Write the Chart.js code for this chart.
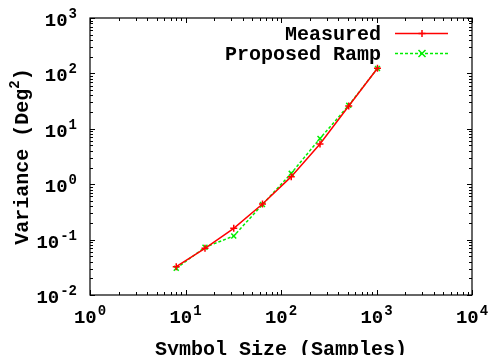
<!DOCTYPE html>
<html>
<head>
<meta charset="utf-8">
<script src="https://cdn.jsdelivr.net/npm/chart.js@4/dist/chart.umd.min.js"></script>
<style>
  html, body { margin: 0; padding: 0; background: #fff; }
  canvas { display: block; }
</style>
</head>
<body>
<canvas id="myChart" width="490" height="355"></canvas>
<script>
// data
const symbolSizes = [8, 16, 32, 64, 128, 256, 512, 1024];
const measured = [0.0324, 0.0697, 0.160, 0.44, 1.37, 5.3, 25.8, 124];
const proposedRamp = [0.0303, 0.0726, 0.116, 0.43, 1.57, 6.7, 26.5, 123];
const seriesNames = ['Measured', 'Proposed Ramp'];
const xTickExps = [0, 1, 2, 3, 4];
const yTickExps = [-2, -1, 0, 1, 2, 3];
const xTitle = 'Symbol Size (Samples)';
const yTitle = ['Variance (Deg', '2', ')'];

const FONT = '"Liberation Mono", "DejaVu Sans Mono", monospace';

const toPoints = (ys) => symbolSizes.map((x, i) => ({ x: x, y: ys[i] }));

// gnuplot-ish markers: + and x
function drawMarker(ctx, style, x, y, r, color, width) {
  ctx.save();
  ctx.strokeStyle = color;
  ctx.lineWidth = width;
  ctx.setLineDash([]);
  ctx.beginPath();
  if (style === 'cross') {
    ctx.moveTo(x - r, y); ctx.lineTo(x + r, y);
    ctx.moveTo(x, y - r); ctx.lineTo(x, y + r);
  } else {
    ctx.moveTo(x - r, y - r); ctx.lineTo(x + r, y + r);
    ctx.moveTo(x - r, y + r); ctx.lineTo(x + r, y - r);
  }
  ctx.stroke();
  ctx.restore();
}

// "10" with a raised exponent
function drawPow(ctx, x, y, exp, align) {
  const base = '10';
  const sup = exp < 0 ? '-' + Math.abs(exp) : String(exp);
  ctx.font = 'bold 19px ' + FONT;
  const wb = ctx.measureText(base).width;
  ctx.font = 'bold 14px ' + FONT;
  const we = ctx.measureText(sup).width;
  const total = wb + we + 1;
  let start = align === 'right' ? x - total : x - total / 2;
  ctx.textAlign = 'left';
  ctx.textBaseline = 'alphabetic';
  ctx.fillStyle = '#000';
  ctx.font = 'bold 19px ' + FONT;
  ctx.fillText(base, start, y);
  ctx.font = 'bold 14px ' + FONT;
  ctx.fillText(sup, start + wb + 1, y - 8);
}

const framePlugin = {
  id: 'frame',
  afterDraw(chart) {
    const ctx = chart.ctx;
    const a = chart.chartArea;
    const xs = chart.scales.x;
    const ys = chart.scales.y;
    ctx.save();

    // border
    ctx.strokeStyle = '#000';
    ctx.lineWidth = 1.2;
    ctx.strokeRect(a.left, a.top, a.right - a.left, a.bottom - a.top);

    // inward ticks, mirrored on all sides
    ctx.lineWidth = 1;
    ctx.beginPath();
    for (let e = xTickExps[0]; e <= xTickExps[xTickExps.length - 1]; e++) {
      for (let m = 1; m <= 9; m++) {
        const v = m * Math.pow(10, e);
        if (v > xs.max) break;
        const px = Math.round(xs.getPixelForValue(v)) + 0.5;
        const len = m === 1 ? 5 : 3;
        ctx.moveTo(px, a.bottom); ctx.lineTo(px, a.bottom - len);
        ctx.moveTo(px, a.top); ctx.lineTo(px, a.top + len);
      }
    }
    for (let e = yTickExps[0]; e <= yTickExps[yTickExps.length - 1]; e++) {
      for (let m = 1; m <= 9; m++) {
        const v = m * Math.pow(10, e);
        if (v > ys.max * 1.0001) break;
        const py = Math.round(ys.getPixelForValue(v)) + 0.5;
        const len = m === 1 ? 5 : 3;
        ctx.moveTo(a.left, py); ctx.lineTo(a.left + len, py);
        ctx.moveTo(a.right, py); ctx.lineTo(a.right - len, py);
      }
    }
    ctx.stroke();

    // tick labels
    xTickExps.forEach(e => {
      drawPow(ctx, xs.getPixelForValue(Math.pow(10, e)), a.bottom + 28, e, 'center');
    });
    yTickExps.forEach(e => {
      drawPow(ctx, a.left - 13, ys.getPixelForValue(Math.pow(10, e)) + 8, e, 'right');
    });

    // axis titles
    ctx.fillStyle = '#000';
    ctx.font = 'bold 20px ' + FONT;
    ctx.textAlign = 'center';
    ctx.textBaseline = 'alphabetic';
    ctx.fillText(xTitle, (a.left + a.right) / 2, a.bottom + 60);

    ctx.save();
    ctx.translate(28, (a.top + a.bottom) / 2);
    ctx.rotate(-Math.PI / 2);
    ctx.font = 'bold 20px ' + FONT;
    const w0 = ctx.measureText(yTitle[0]).width;
    const w2 = ctx.measureText(yTitle[2]).width;
    ctx.font = 'bold 14px ' + FONT;
    const w1 = ctx.measureText(yTitle[1]).width;
    let sx = -(w0 + w1 + w2) / 2;
    ctx.textAlign = 'left';
    ctx.font = 'bold 20px ' + FONT;
    ctx.fillText(yTitle[0], sx, 0);
    ctx.font = 'bold 14px ' + FONT;
    ctx.fillText(yTitle[1], sx + w0, -9);
    ctx.font = 'bold 20px ' + FONT;
    ctx.fillText(yTitle[2], sx + w0 + w1, 0);
    ctx.restore();

    // key
    chart.data.datasets.forEach((ds, i) => {
      const y = 33 + i * 20;
      ctx.fillStyle = '#000';
      ctx.font = 'bold 20px ' + FONT;
      ctx.textAlign = 'right';
      ctx.fillText(ds.label, 381, y + 7);
      ctx.strokeStyle = ds.borderColor;
      ctx.lineWidth = ds.borderWidth;
      ctx.setLineDash(ds.borderDash || []);
      ctx.beginPath();
      ctx.moveTo(395, y + 0.5);
      ctx.lineTo(448, y + 0.5);
      ctx.stroke();
      ctx.setLineDash([]);
      drawMarker(ctx, ds.pointStyle, 422, y + 0.5, 3.5, ds.borderColor, 1.5);
    });

    ctx.restore();
  }
};

const data = {
  datasets: [{
    label: seriesNames[0],
    data: toPoints(measured),
    borderColor: '#ff0000',
    backgroundColor: '#ff0000',
    borderWidth: 1.5,
    pointStyle: 'cross',
    pointRadius: 3.5,
    pointBorderWidth: 1.5,
    tension: 0
  }, {
    label: seriesNames[1],
    data: toPoints(proposedRamp),
    borderColor: '#00ee00',
    backgroundColor: '#00ee00',
    borderWidth: 1.5,
    borderDash: [3, 2],
    pointStyle: 'crossRot',
    pointRadius: 3.5,
    pointBorderWidth: 1.5,
    tension: 0
  }]
};

const config = {
  type: 'line',
  data,
  plugins: [framePlugin],
  options: {
    responsive: false,
    animation: false,
    devicePixelRatio: 1,
    layout: {
      padding: { left: 90, top: 18, right: 18, bottom: 60 }
    },
    scales: {
      x: {
        type: 'logarithmic',
        min: 1,
        max: 10000,
        display: false
      },
      y: {
        type: 'logarithmic',
        min: 0.01,
        max: 1000,
        display: false
      }
    },
    plugins: {
      legend: { display: false },
      tooltip: { enabled: false }
    }
  }
};

const myChart = new Chart(document.getElementById('myChart'), config);
</script>
</body>
</html>
